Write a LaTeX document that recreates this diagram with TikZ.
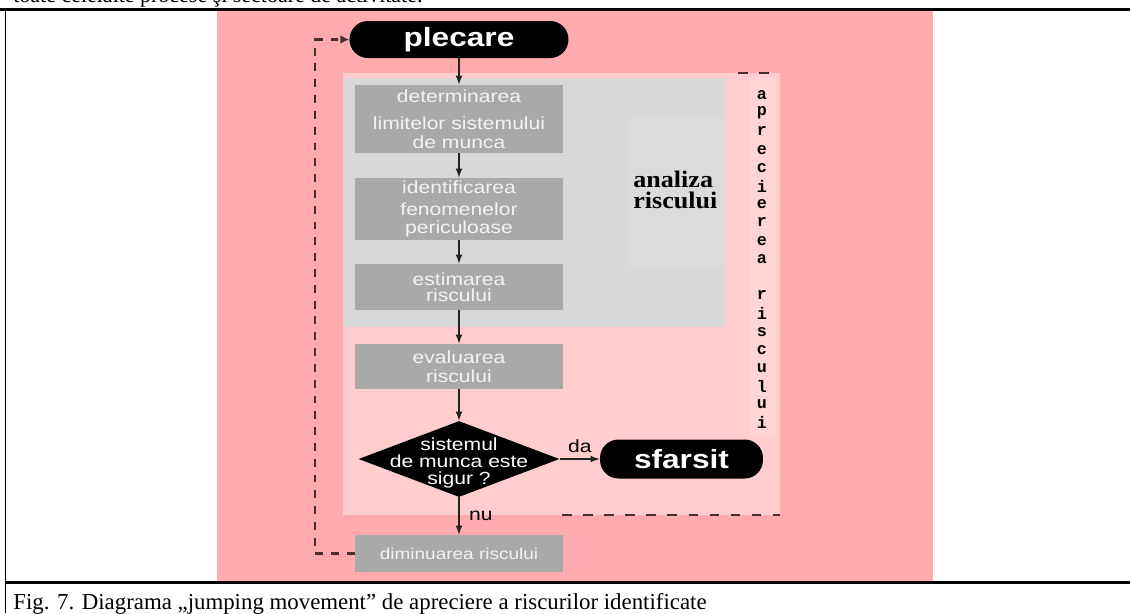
\documentclass[tikz,border=0pt]{standalone}
\usepackage{fontspec}
\setmainfont{Liberation Serif}
\newfontfamily\diafont[FakeStretch=1.2]{Liberation Sans}
\newfontfamily\labelfont[FakeStretch=1.1]{Liberation Serif}
\newfontfamily\vertfont{Liberation Mono}
\usepackage{tikz}
\usetikzlibrary{shapes,arrows,arrows.meta,calc}
\usepackage{xcolor}
\definecolor{outerpink}{RGB}{255,171,173}
\definecolor{innerpink}{RGB}{255,205,205}
\definecolor{strippink}{RGB}{255,212,212}
\definecolor{areagray}{RGB}{216,216,216}
\definecolor{subgray}{RGB}{219,219,219}
\definecolor{boxgray}{RGB}{169,169,169}
\definecolor{boxtext}{RGB}{242,242,242}
\definecolor{loopline}{RGB}{75,45,45}
\definecolor{arrowline}{RGB}{35,35,35}

\tikzset{
  stepbox/.style={rectangle, fill=boxgray, minimum width=4.16cm, inner sep=0pt,
    text=boxtext, align=center, font=\diafont\fontsize{10}{10.5}\selectfont},
  terminal/.style={rectangle, rounded corners=10.5pt, fill=black, inner sep=0pt,
    text=white, font=\diafont\bfseries\fontsize{15}{17}\selectfont},
  decision/.style={diamond, fill=black, inner sep=0pt, minimum width=4.02cm, minimum height=1.52cm},
  flow/.style={thick, -latex, draw=arrowline},
  loopback/.style={line width=1.6pt, draw=loopline, dash pattern=on 4.5pt off 4.5pt},
  bracket/.style={line width=1.2pt, draw=loopline, dash pattern=on 5.5pt off 6.5pt},
  vletter/.style={inner sep=0pt, font=\vertfont\bfseries\fontsize{9.5}{9.5}\selectfont},
}

\begin{document}
\begin{tikzpicture}[x=0.02cm, y=-0.02cm]
\useasboundingbox (0,0) rectangle (1130,613);
% Background areas
\fill[white] (0,0) rectangle (1130,613);
\fill[outerpink] (217,10) rectangle (933,582);
\fill[innerpink] (343,73) rectangle (780,515);
\fill[strippink] (750,78) rectangle (776,436);
\fill[areagray] (343,78) rectangle (725,327);
\fill[subgray] (627,118) rectangle (725,268);
% Steps of the flow
\node[terminal, minimum width=4.38cm, minimum height=0.74cm] (plecare) at (459,39.5) {plecare};
\node[stepbox, minimum height=1.36cm] (limite) at (459,119) {determinarea\\[5pt]limitelor sistemului\\de munca};
\node[stepbox, minimum height=1.24cm] (fenomene) at (459,209) {identificarea\\[2pt]fenomenelor\\periculoase};
\node[stepbox, minimum height=0.92cm] (estimare) at (459,287) {estimarea\\[-1.5pt]riscului};
\node[stepbox, minimum height=0.9cm] (evaluare) at (459,366.5) {evaluarea\\riscului};
\node[decision] (sigur) at (459,459) {};
\node[text=white, align=center, inner sep=0pt, font=\diafont\fontsize{10}{9.6}\selectfont] (sigurtxt) at ($(sigur.center)+(0,4)$) {sistemul\\de munca este\\sigur ?};
\node[terminal, minimum width=3.26cm, minimum height=0.78cm] (sfarsit) at (681.5,459) {sfarsit};
\node[stepbox, minimum height=0.74cm, font=\diafont\fontsize{9}{10}\selectfont] (diminuare) at (459,553.5) {diminuarea riscului};
% Labels
\node[anchor=west, align=left, inner sep=0pt, font=\labelfont\bfseries\fontsize{13.5}{12}\selectfont] (analiza) at (633,190) {analiza\\riscului};
\foreach \ch/\k in {a/0,p/1,r/2,e/3,c/4,i/5,e/6,r/7,e/8,a/9,r/11,i/12,s/13,c/14,u/15,l/16,u/17,i/18}
  \node[vletter] (ltr\k) at (762,95+18.2*\k) {\ch};
% Flow edges
\draw[flow] (plecare) -- (limite);
\draw[flow] (limite) -- (fenomene);
\draw[flow] (fenomene) -- (estimare);
\draw[flow] (estimare) -- (evaluare);
\draw[flow] (evaluare) -- (sigur);
\draw[flow] (sigur) -- node[above, font=\diafont\fontsize{10}{10}\selectfont] (da) {da} (sfarsit);
\draw[flow] (sigur) -- node[right, xshift=2pt, font=\diafont\fontsize{10}{10}\selectfont] (nu) {nu} (diminuare);
% Return loop
\coordinate (loopbot) at (315,553.5);
\coordinate (looptop) at (315,39.5);
\draw[loopback, -{Latex[length=5pt,width=5pt]}] (diminuare.west) -- (loopbot) -- (looptop) -- (plecare.west);
% Bracket of the risk assessment
\coordinate (brtopa) at (738,73);
\coordinate (brtopb) at (780,73);
\draw[bracket] (brtopa) -- (brtopb);
\coordinate (brbota) at (562,515);
\coordinate (brbotb) at (780,515);
\draw[bracket] (brbota) -- (brbotb);
% Table rules and text of the page
\draw[line width=1.2pt] (0,9.5) -- (1130,9.5);
\draw[line width=0.8pt] (5.5,9.5) -- (5.5,613);
\draw[line width=1.2pt] (5.5,582.5) -- (1130,582.5);
\node[anchor=base west, inner sep=0pt, font=\fontsize{12.5}{14}\selectfont] (prevtext) at (13,2) {toate celelalte procese şi sectoare de activitate.};
\node[anchor=base west, inner sep=0pt, font=\fontsize{13}{15}\selectfont] (caption) at (13,609) {Fig. 7. Diagrama „jumping movement” de apreciere a riscurilor identificate};
\end{tikzpicture}
\end{document}
